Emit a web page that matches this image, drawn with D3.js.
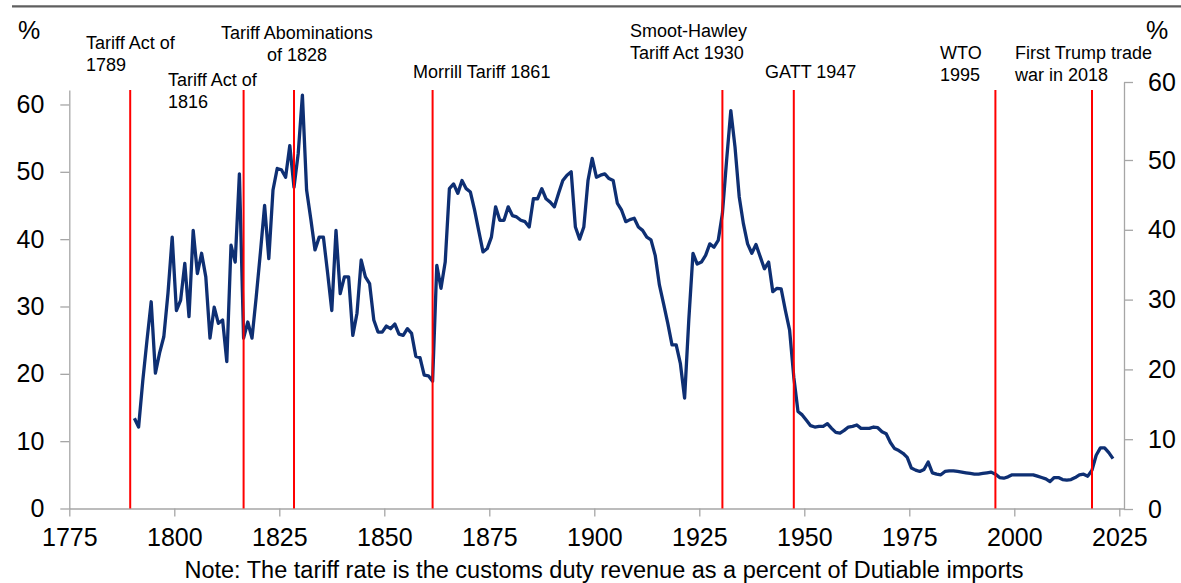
<!DOCTYPE html>
<html>
<head>
<meta charset="utf-8">
<script src="https://cdn.jsdelivr.net/npm/d3@7"></script>
<style>
  body { margin: 0; background: #fff; }
  svg text { font-family: Arial, "Liberation Sans", sans-serif; fill: #000; }
  .axis path, .axis line { stroke: #a6a6a6; stroke-width: 1.3; }
</style>
</head>
<body>
<div id="chart"></div>
<script>
// US average tariff rate on dutiable imports (%), one value per year from 1790
var firstYear = 1790;
var tariffRate = [
  13.4, 12.1, 19.0, 25.0, 30.7, 20.1, 23.1, 25.5, 32.0, 40.3,
  29.4, 30.9, 36.4, 28.5, 41.3, 34.9, 37.9, 34.4, 25.3, 29.9,
  27.5, 28.0, 21.8, 39.1, 36.6, 49.7, 25.3, 27.7, 25.3, 31.4,
  38.0, 45.0, 37.1, 47.3, 50.5, 50.3, 49.2, 53.9, 47.7, 52.7,
  61.4, 47.3, 43.0, 38.4, 40.3, 40.3, 35.0, 29.4, 41.3, 31.9,
  34.4, 34.4, 25.7, 29.0, 36.9, 34.4, 33.4, 28.0, 26.2, 26.2,
  27.1, 26.7, 27.4, 25.9, 25.7, 26.7, 26.0, 22.6, 22.4, 19.8,
  19.7, 18.9, 36.1, 32.7, 36.6, 47.5, 48.2, 46.8, 48.7, 47.5,
  47.0, 44.3, 41.2, 38.1, 38.6, 40.3, 44.8, 42.8, 42.8, 44.8,
  43.5, 43.3, 42.8, 42.6, 41.8, 46.0, 46.0, 47.5, 46.0, 45.5,
  44.8, 46.8, 48.7, 49.5, 50.0, 41.8, 40.0, 41.8, 48.7, 52.0,
  49.2, 49.5, 49.7, 49.0, 48.7, 45.3, 44.3, 42.6, 42.9, 43.1,
  41.8, 41.3, 40.3, 39.9, 37.6, 33.2, 30.4, 27.5, 24.3, 24.3,
  21.5, 16.4, 28.0, 37.9, 36.3, 36.6, 37.6, 39.3, 38.8, 39.8,
  43.8, 51.7, 59.1, 53.7, 46.3, 42.3, 39.3, 37.9, 39.2, 37.4,
  35.6, 36.6, 32.2, 32.7, 32.6, 29.4, 26.5, 19.5, 14.4, 13.9,
  13.1, 12.3, 12.1, 12.2, 12.2, 12.6, 11.9, 11.3, 11.2, 11.6,
  12.1, 12.2, 12.4, 11.9, 11.9, 11.9, 12.1, 12.0, 11.4, 11.1,
  9.8, 8.9, 8.6, 8.2, 7.6, 6.0, 5.7, 5.5, 5.8, 6.9,
  5.3, 5.1, 5.0, 5.5, 5.6, 5.6, 5.5, 5.4, 5.3, 5.2,
  5.1, 5.1, 5.2, 5.3, 5.4, 5.1, 4.6, 4.5, 4.7, 5.0,
  5.0, 5.0, 5.0, 5.0, 5.0, 4.8, 4.6, 4.4, 4.0, 4.6,
  4.6, 4.3, 4.2, 4.3, 4.6, 5.0, 5.1, 4.8, 5.7, 7.9,
  9.0, 9.0, 8.3, 7.4
];
var years = tariffRate.map(function(d, i) { return firstYear + i; });

var xTicks = [1775, 1800, 1825, 1850, 1875, 1900, 1925, 1950, 1975, 2000, 2025];
var yTicks = [0, 10, 20, 30, 40, 50, 60];

// trade policy events (red markers)
var eventYears = [1789, 1816, 1828, 1861, 1930, 1947, 1995, 2018];
var eventLabels = [
  ["Tariff Act of", "1789"],
  ["Tariff Act of", "1816"],
  ["Tariff Abominations", "of 1828"],
  ["Morrill Tariff 1861"],
  ["Smoot-Hawley", "Tariff Act 1930"],
  ["GATT 1947"],
  ["WTO", "1995"],
  ["First Trump trade", "war in 2018"]
];
var noteText = "Note: The tariff rate is the customs duty revenue as a percent of Dutiable imports";

// layout
var svgWidth = 1181;
var svgHeight = 583;
var x0 = 69.3, xRight = 1124;
var yBase = 508.5;

// label placement: left x (or centre), y of first line centre, anchor
var labelPos = [
  {x: 86, y: 43, anchor: "start"},
  {x: 168, y: 80, anchor: "start"},
  {x: 297, y: 33, anchor: "middle"},
  {x: 413, y: 72, anchor: "start"},
  {x: 630, y: 31, anchor: "start"},
  {x: 765, y: 72, anchor: "start"},
  {x: 940, y: 53, anchor: "start"},
  {x: 1015, y: 53, anchor: "start"}
];

var svg = d3.select("#chart")
  .append("svg")
  .attr("width", svgWidth)
  .attr("height", svgHeight);

// thin rule across the top
svg.append("line")
  .attr("x1", 12).attr("x2", svgWidth)
  .attr("y1", 6.3).attr("y2", 6.3)
  .attr("stroke", "#5f5f5f")
  .attr("stroke-width", 2.3);

// scales
var xScale = d3.scaleLinear()
  .domain([1775, 1775 + (xRight - x0) / 4.2])
  .range([x0, xRight]);

var yLeft = d3.scaleLinear()
  .domain([0, 62.15])
  .range([yBase, 90]);

// secondary axis is not quite linear in the source
var yRight = d3.scaleLinear()
  .domain([0, 50, 60])
  .range([509, 160, 82]);

// axes
var bottomAxis = d3.axisBottom(xScale)
  .tickValues(xTicks)
  .tickFormat(d3.format("d"))
  .tickSize(8)
  .tickSizeOuter(0)
  .tickPadding(12);

var leftAxis = d3.axisLeft(yLeft)
  .tickValues(yTicks)
  .tickSize(9)
  .tickSizeOuter(0)
  .tickPadding(16);

var rightAxis = d3.axisRight(yRight)
  .tickValues(yTicks)
  .tickSize(9)
  .tickSizeOuter(0)
  .tickPadding(15);

var gx = svg.append("g")
  .attr("class", "axis")
  .attr("transform", `translate(0, ${yBase})`)
  .call(bottomAxis);

var gl = svg.append("g")
  .attr("class", "axis")
  .attr("transform", `translate(${x0}, 0)`)
  .call(leftAxis);

var gr = svg.append("g")
  .attr("class", "axis")
  .attr("transform", `translate(${xRight}, 0)`)
  .call(rightAxis);

svg.selectAll(".axis text")
  .attr("font-size", "25px")
  .attr("fill", "#000");

// axis units
svg.append("text")
  .attr("x", 18).attr("y", 39)
  .attr("font-size", "25px")
  .text("%");

svg.append("text")
  .attr("x", 1146).attr("y", 39)
  .attr("font-size", "25px")
  .text("%");

// tariff line (points sit mid-year)
var line = d3.line()
  .x(function(d, i) { return xScale(years[i] + 0.5); })
  .y(function(d) { return yLeft(d); });

svg.append("path")
  .datum(tariffRate)
  .attr("fill", "none")
  .attr("stroke", "#0e2f73")
  .attr("stroke-width", 3.3)
  .attr("stroke-linejoin", "round")
  .attr("d", line);

// event markers
svg.selectAll(".event")
  .data(eventYears)
  .enter()
  .append("line")
  .attr("class", "event")
  .attr("x1", d => xScale(d + 0.5))
  .attr("x2", d => xScale(d + 0.5))
  .attr("y1", 90)
  .attr("y2", yBase)
  .attr("stroke", "#ff0000")
  .attr("stroke-width", 2);

// event labels
eventLabels.forEach(function(lines, i) {
  var p = labelPos[i];
  var t = svg.append("text")
    .attr("x", p.x)
    .attr("y", p.y)
    .attr("font-size", "18px")
    .attr("text-anchor", p.anchor);
  lines.forEach(function(s, j) {
    t.append("tspan")
      .attr("x", p.x)
      .attr("y", p.y + j * 22)
      .attr("dy", "0.35em")
      .text(s);
  });
});

// footnote
svg.append("text")
  .attr("x", 604)
  .attr("y", 578)
  .attr("text-anchor", "middle")
  .attr("font-size", "23.5px")
  .text(noteText);
</script>
</body>
</html>
